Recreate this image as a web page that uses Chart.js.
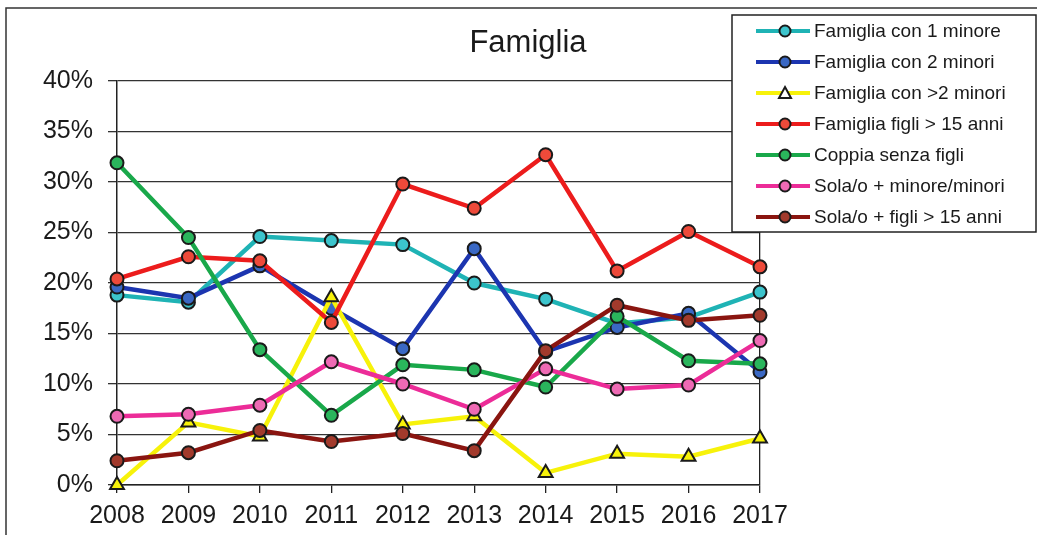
<!DOCTYPE html>
<html>
<head>
<meta charset="utf-8">
<script src="https://cdn.jsdelivr.net/npm/chart.js@4.4.1/dist/chart.umd.min.js"></script>
<style>
  html, body { margin: 0; padding: 0; background: #fff; }
  #wrap { position: relative; width: 1037px; height: 535px; }
</style>
</head>
<body>
<div id="wrap"><canvas id="chart" width="1037" height="535"></canvas></div>
<script>
// Famiglia - share of households by type, 2008-2017

const years = ['2008', '2009', '2010', '2011', '2012', '2013', '2014', '2015', '2016', '2017'];

const seriesNames = [
  'Famiglia con 1 minore',
  'Famiglia con 2 minori',
  'Famiglia con >2 minori',
  'Famiglia figli > 15 anni',
  'Coppia senza figli',
  'Sola/o + minore/minori',
  'Sola/o + figli > 15 anni'
];

const unMinore     = [18.8, 18.1, 24.6, 24.2, 23.8, 20.0, 18.4, 16.0, 16.6, 19.1];
const dueMinori    = [19.6, 18.5, 21.7, 17.5, 13.5, 23.4, 13.2, 15.6, 17.0, 11.2];
const piuMinori    = [0.0, 6.2, 4.8, 18.6, 6.0, 6.8, 1.2, 3.1, 2.8, 4.6];
const figliOver15  = [20.4, 22.6, 22.2, 16.1, 29.8, 27.4, 32.7, 21.2, 25.1, 21.6];
const coppia       = [31.9, 24.5, 13.4, 6.9, 11.9, 11.4, 9.7, 16.7, 12.3, 12.0];
const solaMinori   = [6.8, 7.0, 7.9, 12.2, 10.0, 7.5, 11.5, 9.5, 9.9, 14.3];
const solaFigli    = [2.4, 3.2, 5.4, 4.3, 5.1, 3.4, 13.3, 17.8, 16.3, 16.8];

const yTicks = [0, 5, 10, 15, 20, 25, 30, 35, 40];

const allValues = [unMinore, dueMinori, piuMinori, figliOver15, coppia, solaMinori, solaFigli];
const lineColors = ['#1fb3b5', '#1c35b0', '#f7f20a', '#ec1c1c', '#19a84a', '#ec2c98', '#8a1510'];
const fillColors = ['#3cc4cc', '#3a68c4', '#f7f20a', '#ee4a3a', '#2ab55c', '#ee6ab4', '#a23a2c'];
const markers = ['circle', 'circle', 'triangle', 'circle', 'circle', 'circle', 'circle'];

const FONT = '"Liberation Sans", Arial, sans-serif';
const INK = '#1a1a1a';

const datasets = allValues.map((vals, i) => ({
  label: seriesNames[i],
  data: vals,
  borderColor: lineColors[i],
  backgroundColor: fillColors[i],
  pointBackgroundColor: fillColors[i],
  pointBorderColor: '#1a1a1a',
  pointBorderWidth: 2,
  pointStyle: markers[i],
  pointRadius: markers[i] === 'triangle' ? 8 : 6.5,
  borderWidth: 4.5,
  tension: 0,
  clip: false,
  order: allValues.length - i
}));

// title, legend box and outer frame
const decorPlugin = {
  id: 'decor',
  afterDraw(chart) {
    const ctx = chart.ctx;
    ctx.save();

    // outer frame (top + left edges visible in the scan)
    ctx.strokeStyle = '#333';
    ctx.lineWidth = 1.5;
    ctx.beginPath();
    ctx.moveTo(6, 535);
    ctx.lineTo(6, 8);
    ctx.lineTo(1037, 8);
    ctx.stroke();

    // title
    ctx.fillStyle = INK;
    ctx.font = '31px ' + FONT;
    ctx.textAlign = 'center';
    ctx.textBaseline = 'middle';
    ctx.fillText('Famiglia', 528, 43);

    // legend
    const lx = 732, ly = 15, lw = 304, lh = 217;
    ctx.fillStyle = '#fff';
    ctx.fillRect(lx, ly, lw, lh);
    ctx.strokeStyle = '#222';
    ctx.lineWidth = 1.5;
    ctx.strokeRect(lx, ly, lw, lh);

    ctx.font = '19px ' + FONT;
    ctx.textAlign = 'left';
    chart.data.datasets.forEach((ds, i) => {
      const cy = ly + 16 + i * 31;
      ctx.strokeStyle = ds.borderColor;
      ctx.lineWidth = 4;
      ctx.beginPath();
      ctx.moveTo(756, cy);
      ctx.lineTo(810, cy);
      ctx.stroke();
      ctx.lineWidth = 2;
      ctx.strokeStyle = '#1a1a1a';
      ctx.fillStyle = ds.pointBackgroundColor;
      if (ds.pointStyle === 'triangle') {
        ctx.fillStyle = '#fff';
        ctx.beginPath();
        ctx.moveTo(785, cy - 6);
        ctx.lineTo(791, cy + 5);
        ctx.lineTo(779, cy + 5);
        ctx.closePath();
        ctx.fill();
        ctx.stroke();
      } else {
        ctx.beginPath();
        ctx.arc(785, cy, 5.5, 0, Math.PI * 2);
        ctx.fill();
        ctx.stroke();
      }
      ctx.fillStyle = INK;
      ctx.fillText(ds.label, 814, cy + 1);
    });
    ctx.restore();
  }
};

new Chart(document.getElementById('chart'), {
  type: 'line',
  data: { labels: years, datasets },
  options: {
    responsive: false,
    animation: false,
    layout: { padding: { left: 0, right: 277, top: 81, bottom: 0 } },
    plugins: {
      legend: { display: false },
      tooltip: { enabled: false }
    },
    scales: {
      x: {
        offset: false,
        grid: {
          color: c => (c.index === years.length - 1 ? '#222' : 'rgba(0,0,0,0)'),
          tickColor: '#222',
          tickLength: 8,
          lineWidth: 1.3
        },
        border: { color: '#222', width: 1.5 },
        ticks: { font: { size: 25, family: FONT }, color: INK, padding: 8, maxRotation: 0, autoSkip: false },
        afterFit: s => { s.height = 50; }
      },
      y: {
        min: 0,
        max: 40,
        afterBuildTicks: s => { s.ticks = yTicks.map(v => ({ value: v })); },
        grid: { color: '#333', tickColor: '#333', tickLength: 9, lineWidth: 1.3 },
        border: { color: '#222', width: 1.5 },
        ticks: { callback: v => v + '%', font: { size: 25, family: FONT }, color: INK, padding: 15 },
        afterFit: s => { s.width = 117; }
      }
    }
  },
  plugins: [decorPlugin]
});
</script>
</body>
</html>
